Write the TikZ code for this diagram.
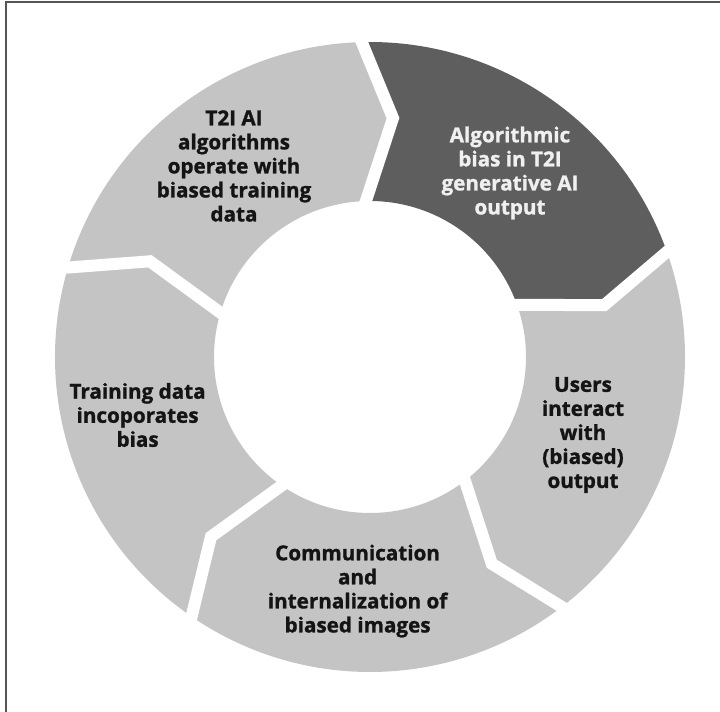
\documentclass[tikz,border=0pt]{standalone}
\usepackage{fontspec}
\setmainfont{Open Sans}[BoldFeatures={FakeBold=1.2}]
\definecolor{segGrey}{HTML}{C4C4C4}
\definecolor{segDark}{HTML}{5E5E5E}
\definecolor{frameGrey}{HTML}{555555}
\tikzset{
  seg label/.style={align=center, font=\fontsize{14.7}{17.1}\selectfont\bfseries, text=black!92},
  seg gap/.style={white, line width=0.3cm, line join=miter, line cap=rect},
}
\begin{document}
\begin{tikzpicture}
    \useasboundingbox (-9.25,-8.875) rectangle (8.75,8.925);
    \draw[frameGrey, line width=1.3pt] (-9.1,-8.875) to (-9.1,8.875) to (8.75,8.875);
    % ring pieces, start angle / fill
    \foreach \a/\col in {91.5/segDark, 19.5/segGrey, -52.5/segGrey, -124.5/segGrey, -196.5/segGrey} {
      \pgfmathsetmacro{\b}{\a-72}
      \fill[\col] (\a:7.875) arc[start angle=\a, end angle=\b, radius=7.875] -- (\b-7:6)
        -- (\b:3.9) arc[start angle=\b, end angle=\a, radius=3.9] -- (\a-7:6) -- cycle;
    }
    \foreach \a in {91.5, 19.5, -52.5, -124.5, -196.5}
      \draw[seg gap] (\a:7.875) -- (\a-7:6) -- (\a:3.9);
    \node[seg label, text=white!94!black] (bias) at (3.5,4.6) {Algorithmic\\bias in T2I\\generative AI\\output};
    \node[seg label] (users) at (5.325,-1.95) {Users\\interact\\with\\(biased)\\output};
    \node[seg label] (comm) at (-0.31,-5.85) {Communication\\and\\internalization of\\biased images};
    \node[seg label] (train) at (-5.81,-1.45) {Training data\\incoporates\\bias};
    \node[seg label] (algo) at (-3.4,4.775) {T2I AI\\algorithms\\operate with\\biased training\\data};
\end{tikzpicture}
\end{document}
